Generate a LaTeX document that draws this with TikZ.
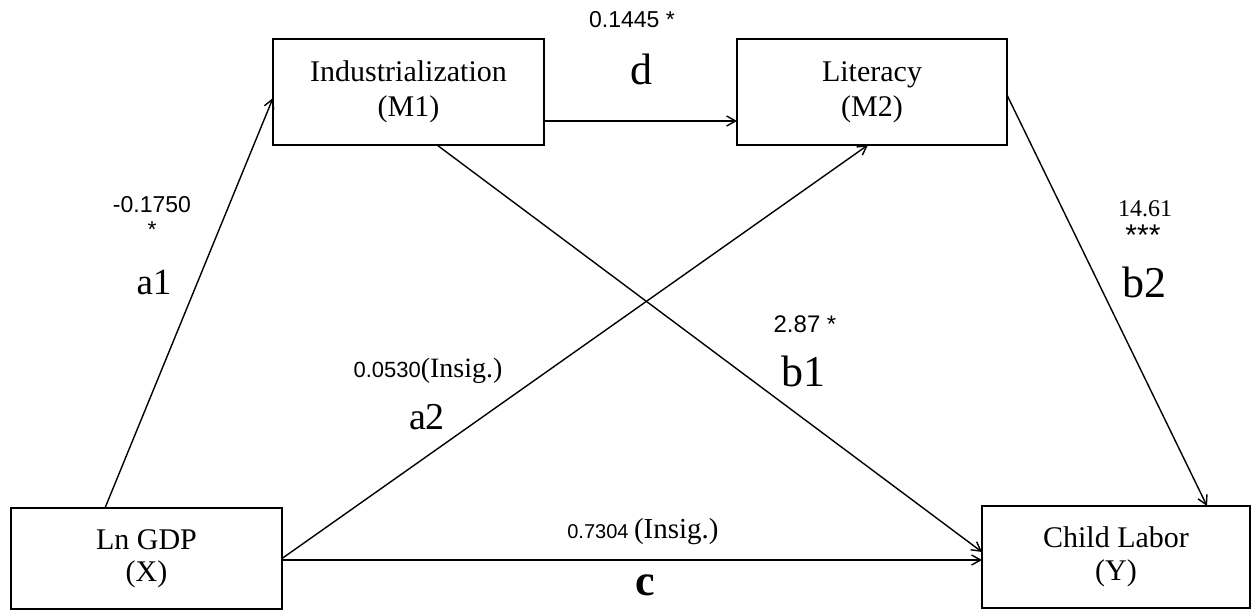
\documentclass[tikz,border=0pt]{standalone}
\usepackage{fontspec}
\setmainfont{Liberation Serif}
\newfontfamily\numfont{Liberation Sans}
\usetikzlibrary{arrows.meta}

\begin{document}
\begin{tikzpicture}[x=1pt,y=1pt,
  varbox/.style={draw=drawColor,line width=1.8pt,fill=fillColor,align=center,
    inner sep=0pt,outer sep=0pt,font=\fontsize{30}{35}\selectfont},
  effect/.style={draw=drawColor,line width=1.4pt,line join=round,
    -{Straight Barb[length=9pt,width=10pt,line width=1.4pt]}},
  coef/.style={text=drawColor,anchor=base,inner sep=0pt,outer sep=0pt,
    font=\numfont\fontsize{23}{27}\selectfont},
  pathname/.style={text=drawColor,anchor=base,inner sep=0pt,outer sep=0pt}]
\definecolor{fillColor}{RGB}{255,255,255}
\definecolor{drawColor}{RGB}{0,0,0}
\path[use as bounding box,fill=fillColor] (0,0) rectangle (1251,611);

% variables
\node[varbox,minimum width=271pt,minimum height=106pt] (M1) at ( 408.5,519.0) {Industrialization\\(M1)};
\node[varbox,minimum width=270pt,minimum height=106pt] (M2) at ( 872.0,519.0) {Literacy\\(M2)};
\node[varbox,minimum width=271pt,minimum height=101pt,
  font=\fontsize{30}{32}\selectfont] (X) at ( 146.5, 52.5) {Ln GDP\\(X)};
\node[varbox,minimum width=268pt,minimum height=102pt,
  font=\fontsize{30}{33}\selectfont] (Y) at (1116.0, 54.0) {Child Labor\\(Y)};

% paths
\path[effect] ([xshift=-41.5pt]X.north) -- ([yshift=-6pt]M1.west);
\path[effect] (X.east) -- ([xshift=-4pt]M2.south);
\path[effect] ([xshift=28.5pt]M1.south) -- ([yshift=5pt]Y.west);
\path[effect] ([yshift=-1.5pt]X.east) -- ([yshift=-1.5pt]X.east -| Y.west);
\path[effect] ([yshift=-3pt]M2.east) -- ([xshift=91pt]Y.north);
\path[effect] ([yshift=-29pt]M1.east) -- ([yshift=-29pt]M1.east -| M2.west);

% coefficients
\node[coef] (dval) at ( 632.0,583.0) {0.1445 *};
\node[pathname,font=\fontsize{44}{48}\selectfont] (dlab) at ( 641.0,526.0) {d};

\node[coef] (a1val) at ( 152.0,398.0) {-0.1750};
\node[coef,anchor=center] (a1sig) at ( 152.0,381.0) {*};
\node[pathname,font=\fontsize{37}{40}\selectfont] (a1lab) at ( 154.0,316.0) {a1};

\node[pathname,font=\fontsize{24}{28}\selectfont] (b2val) at (1145.0,394.0) {14.61};
\node[coef,anchor=center,font=\numfont\fontsize{30}{34}\selectfont] (b2sig) at (1143.0,376.0) {***};
\node[pathname,font=\fontsize{44}{48}\selectfont] (b2lab) at (1144.0,313.0) {b2};

\node[coef,font=\numfont\fontsize{24}{28}\selectfont] (b1val) at ( 805.0,278.0) {2.87 *};
\node[pathname,font=\fontsize{44}{48}\selectfont] (b1lab) at ( 803.0,224.0) {b1};

\node[pathname] (a2val) at ( 428.0,233.0) {{\numfont\fontsize{22}{26}\selectfont 0.0530}{\fontsize{28}{30}\selectfont(Insig.)}};
\node[pathname,font=\fontsize{38}{42}\selectfont] (a2lab) at ( 427.0,181.0) {a2};

\node[pathname] (cval) at ( 643.0, 73.0) {{\numfont\fontsize{20}{24}\selectfont 0.7304 }{\fontsize{29}{32}\selectfont(Insig.)}};
\node[pathname,font=\fontsize{44}{48}\bfseries\selectfont] (clab) at ( 645.0, 16.0) {c};
\end{tikzpicture}
\end{document}
